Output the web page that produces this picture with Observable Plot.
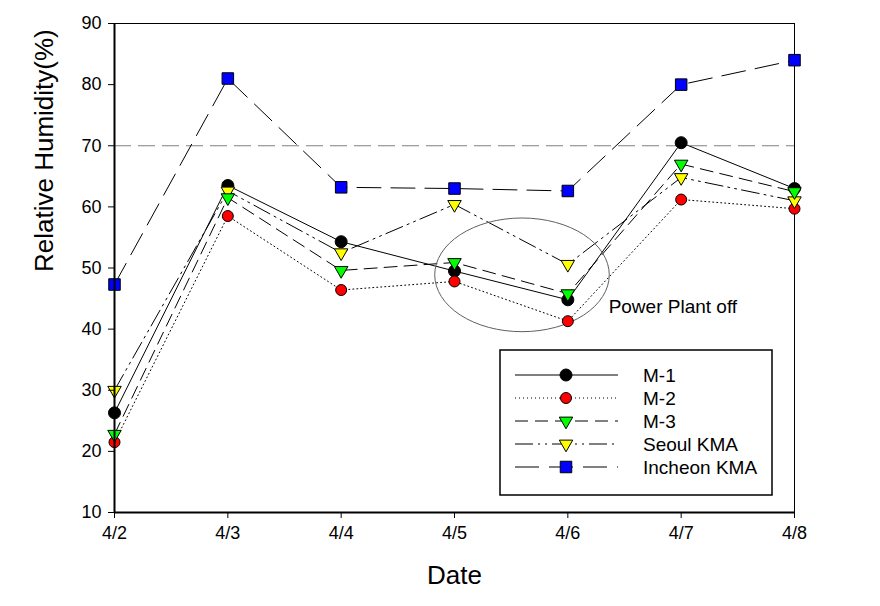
<!DOCTYPE html>
<html><head><meta charset="utf-8">
<script src="https://cdn.jsdelivr.net/npm/d3@7"></script>
<script src="https://cdn.jsdelivr.net/npm/@observablehq/plot@0.6"></script>
<style>body{margin:0;background:#fff}</style>
</head><body><div id="chart"></div>
<script>
const dates = ["4/2","4/3","4/4","4/5","4/6","4/7","4/8"];
const seriesNames = ["M-1","M-2","M-3","Seoul KMA","Incheon KMA"];
const m1 = [26.3, 63.5, 54.3, 49.5, 44.8, 70.5, 63.0];
const m2 = [21.5, 58.5, 46.4, 47.8, 41.3, 61.2, 59.7];
const m3 = [22.8, 61.5, 49.6, 50.9, 45.8, 67.0, 62.5];
const seoul = [30.0, 62.6, 52.5, 60.4, 50.6, 64.8, 61.0];
const incheon = [47.3, 81.0, 63.2, 63.0, 62.6, 80.0, 84.0];
const yTicks = [10, 20, 30, 40, 50, 60, 70, 80, 90];
const threshold = 70;
const note = "Power Plant off";
// annotation ellipse in data units (day index, humidity)
const ell = {cx: 3.6, cy: 48.8, rx: 0.77, ry: 9.3};

const triDown = {
  draw(ctx, size) {
    const k = Math.sqrt(size / (3 * Math.sqrt(3)));
    ctx.moveTo(0, 2 * k);
    ctx.lineTo(-Math.sqrt(3) * k, -k);
    ctx.lineTo(Math.sqrt(3) * k, -k);
    ctx.closePath();
  }
};

const styles = {
  "M-1": {values: m1, fill: "#000000", dash: null, symbol: d3.symbolCircle, r: 6},
  "M-2": {values: m2, fill: "#ff0000", dash: "1,3", symbol: d3.symbolCircle, r: 5.5},
  "M-3": {values: m3, fill: "#00ff00", dash: "13,7", symbol: triDown, r: 5},
  "Seoul KMA": {values: seoul, fill: "#ffff00", dash: "18,5,2,5,2,5", symbol: triDown, r: 5},
  "Incheon KMA": {values: incheon, fill: "#0000ff", dash: "24,10", symbol: d3.symbolSquare, r: 6.5}
};

const rows = name => styles[name].values.map((v, i) => ({series: name, i, date: dates[i], value: v}));

const lineMarks = seriesNames.map(name => Plot.line(rows(name), {
  x: "i", y: "value", stroke: "black", strokeWidth: 1,
  strokeDasharray: styles[name].dash || undefined
}));

const dotOrder = ["M-1", "M-2", "Seoul KMA", "M-3", "Incheon KMA"];
const dotMarks = dotOrder.map(name => Plot.dot(rows(name), {
  x: "i", y: "value", symbol: styles[name].symbol, r: styles[name].r,
  fill: styles[name].fill, stroke: "black", strokeWidth: 1
}));

function ellipseMark(index, scales) {
  const x = scales.x, y = scales.y;
  return d3.create("svg:ellipse")
    .attr("cx", x(ell.cx)).attr("cy", y(ell.cy))
    .attr("rx", Math.abs(x(ell.cx + ell.rx) - x(ell.cx)))
    .attr("ry", Math.abs(y(ell.cy + ell.ry) - y(ell.cy)))
    .attr("fill", "none").attr("stroke", "#606060").attr("stroke-width", 1)
    .node();
}

function legendMark() {
  const g = d3.create("svg:g");
  const box = {x: 500, y: 350, w: 272, h: 145};
  g.append("rect").attr("x", box.x).attr("y", box.y).attr("width", box.w).attr("height", box.h)
    .attr("fill", "white").attr("stroke", "black").attr("stroke-width", 1.5);
  seriesNames.forEach((name, k) => {
    const s = styles[name];
    const yy = 375 + k * 23;
    g.append("line").attr("x1", 515).attr("x2", 618).attr("y1", yy).attr("y2", yy)
      .attr("stroke", "black").attr("stroke-width", 1)
      .attr("stroke-dasharray", s.dash);
    g.append("path").attr("d", d3.symbol(s.symbol, Math.PI * s.r * s.r)())
      .attr("transform", `translate(566,${yy})`)
      .attr("fill", s.fill).attr("stroke", "black").attr("stroke-width", 1);
    g.append("text").attr("x", 643).attr("y", yy).attr("dy", "0.36em")
      .attr("text-anchor", "start")
      .style("font-size", "19px").attr("fill", "black").text(name);
  });
  return g.node();
}

const chart = Plot.plot({
  width: 880, height: 606,
  marginLeft: 114, marginRight: 86, marginTop: 23, marginBottom: 94,
  style: {fontFamily: "'Liberation Sans', Arial, sans-serif", fontSize: "18px", background: "white", color: "black"},
  x: {type: "linear", domain: [0, 6]},
  y: {domain: [10, 90]},
  marks: [
    Plot.ruleY([threshold], {stroke: "#808080", strokeWidth: 1, strokeDasharray: "17,7"}),
    Plot.frame({stroke: "black", strokeWidth: 1}),
    ...lineMarks,
    ellipseMark,
    Plot.text([note], {x: 4.36, y: 43.7, text: d => d, textAnchor: "start", fontSize: 19, fill: "black"}),
    ...dotMarks,
    Plot.axisX({ticks: d3.range(dates.length), tickFormat: i => dates[i], tickSize: 6, tickPadding: 8, fontSize: 18, label: null}),
    Plot.axisY({ticks: yTicks, tickSize: 6, tickPadding: 7, fontSize: 18, label: null}),
    Plot.ruleX([0], {stroke: "black", strokeWidth: 2}),
    Plot.ruleY([10], {stroke: "black", strokeWidth: 2}),
    Plot.text(["Date"], {frameAnchor: "bottom", dy: 71, fontSize: 26, text: d => d, fill: "black"}),
    Plot.text(["Relative Humidity(%)"], {frameAnchor: "left", dx: -70, dy: 4, rotate: -90, fontSize: 26, text: d => d, fill: "black"}),
    legendMark
  ]
});
document.getElementById("chart").appendChild(chart);
</script>
</body></html>
